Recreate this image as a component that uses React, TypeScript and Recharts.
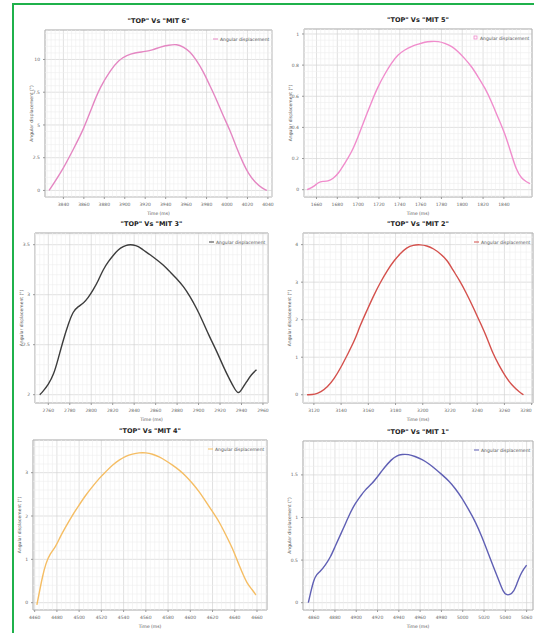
import React from "react";
import { CartesianGrid, Line, LineChart, ReferenceArea, ReferenceLine, XAxis, YAxis } from "recharts";

// MIT 6
const time1 = [3826, 3839, 3850, 3860, 3868, 3876, 3886, 3894, 3902, 3910, 3918, 3927, 3935, 3943, 3951, 3957, 3964, 3970, 3977, 3983, 3990, 3996, 4003, 4009, 4016, 4021, 4027, 4035, 4039];
const angle1 = [0, 1.53, 3.19, 4.72, 6.38, 7.91, 9.18, 9.95, 10.33, 10.51, 10.59, 10.71, 10.97, 11.1, 11.17, 10.97, 10.59, 9.95, 9.06, 8.04, 6.89, 5.74, 4.59, 3.32, 2.04, 1.28, 0.64, 0.13, 0];
const xTicks1 = [3840, 3860, 3880, 3900, 3920, 3940, 3960, 3980, 4000, 4020, 4040];
const yTicks1 = [0, 2.5, 5, 7.5, 10];

// MIT 5
const time2 = [1651, 1657, 1662, 1666, 1671, 1676, 1681, 1687, 1694, 1700, 1706, 1713, 1719, 1726, 1732, 1738, 1745, 1751, 1758, 1764, 1770, 1777, 1783, 1790, 1796, 1802, 1809, 1815, 1822, 1828, 1834, 1841, 1847, 1852, 1857, 1862, 1865];
const angle2 = [0, 0.017, 0.049, 0.054, 0.054, 0.071, 0.103, 0.168, 0.243, 0.34, 0.447, 0.566, 0.662, 0.748, 0.813, 0.867, 0.899, 0.92, 0.935, 0.948, 0.953, 0.953, 0.942, 0.92, 0.888, 0.845, 0.791, 0.727, 0.652, 0.566, 0.469, 0.361, 0.232, 0.125, 0.071, 0.049, 0.039];
const xTicks2 = [1660, 1680, 1700, 1720, 1740, 1760, 1780, 1800, 1820, 1840];
const yTicks2 = [0, 0.2, 0.4, 0.6, 0.8, 1];

// MIT 3
const time3 = [2752, 2755, 2760, 2765, 2769, 2774, 2779, 2783, 2788, 2793, 2797, 2802, 2807, 2811, 2816, 2821, 2825, 2830, 2834, 2839, 2844, 2848, 2855, 2861, 2867, 2873, 2879, 2886, 2892, 2898, 2904, 2910, 2917, 2923, 2929, 2934, 2937, 2940, 2945, 2949, 2954];
const angle3 = [2.0, 2.033, 2.1, 2.2, 2.35, 2.55, 2.717, 2.833, 2.883, 2.917, 2.967, 3.05, 3.15, 3.25, 3.333, 3.4, 3.45, 3.483, 3.5, 3.5, 3.483, 3.45, 3.4, 3.35, 3.3, 3.233, 3.167, 3.083, 2.983, 2.867, 2.733, 2.583, 2.433, 2.283, 2.15, 2.05, 2.007, 2.05, 2.133, 2.2, 2.25];
const xTicks3 = [2760, 2780, 2800, 2820, 2840, 2860, 2880, 2900, 2920, 2940, 2960];
const yTicks3 = [2, 2.5, 3, 3.5];

// MIT 2
const time4 = [3115, 3121, 3125, 3130, 3135, 3140, 3145, 3150, 3154, 3159, 3164, 3169, 3174, 3179, 3184, 3188, 3193, 3198, 3203, 3208, 3213, 3218, 3222, 3227, 3232, 3237, 3242, 3247, 3251, 3256, 3261, 3266, 3271, 3274];
const angle4 = [0, 0.009, 0.071, 0.204, 0.427, 0.738, 1.093, 1.449, 1.849, 2.249, 2.649, 3.004, 3.316, 3.582, 3.778, 3.92, 3.991, 4.0, 3.973, 3.893, 3.76, 3.582, 3.333, 3.049, 2.711, 2.338, 1.938, 1.538, 1.138, 0.782, 0.471, 0.231, 0.071, 0];
const xTicks4 = [3120, 3140, 3160, 3180, 3200, 3220, 3240, 3260, 3280];
const yTicks4 = [0, 1, 2, 3, 4];

// MIT 4
const time5 = [4462, 4464, 4467, 4470, 4474, 4479, 4483, 4488, 4494, 4500, 4506, 4512, 4518, 4524, 4530, 4536, 4542, 4548, 4554, 4560, 4566, 4572, 4578, 4584, 4590, 4596, 4602, 4608, 4614, 4620, 4626, 4632, 4638, 4642, 4647, 4651, 4656, 4659];
const angle5 = [-0.05, 0.215, 0.6, 0.908, 1.138, 1.292, 1.523, 1.754, 2.023, 2.254, 2.485, 2.677, 2.869, 3.023, 3.177, 3.292, 3.385, 3.431, 3.462, 3.462, 3.431, 3.369, 3.277, 3.177, 3.062, 2.923, 2.754, 2.562, 2.331, 2.1, 1.869, 1.562, 1.254, 0.985, 0.677, 0.446, 0.292, 0.177];
const xTicks5 = [4460, 4480, 4500, 4520, 4540, 4560, 4580, 4600, 4620, 4640, 4660];
const yTicks5 = [0, 1, 2, 3];

// MIT 1
const time6 = [4855, 4857, 4860, 4863, 4866, 4871, 4876, 4880, 4885, 4890, 4894, 4899, 4904, 4908, 4915, 4921, 4927, 4933, 4938, 4943, 4949, 4955, 4962, 4968, 4974, 4980, 4987, 4993, 4999, 5005, 5012, 5018, 5024, 5030, 5035, 5038, 5041, 5044, 5048, 5051, 5054, 5057, 5060];
const angle6 = [0, 0.109, 0.266, 0.336, 0.363, 0.441, 0.539, 0.656, 0.793, 0.93, 1.047, 1.164, 1.25, 1.32, 1.398, 1.496, 1.594, 1.68, 1.727, 1.742, 1.742, 1.719, 1.68, 1.633, 1.574, 1.508, 1.43, 1.34, 1.234, 1.105, 0.949, 0.773, 0.578, 0.383, 0.227, 0.129, 0.09, 0.09, 0.129, 0.227, 0.324, 0.391, 0.441];
const xTicks6 = [4860, 4880, 4900, 4920, 4940, 4960, 4980, 5000, 5020, 5040, 5060];
const yTicks6 = [0, 0.5, 1, 1.5];

type PanelSpec = {
  title: string;
  time: number[];
  angle: number[];
  xTicks: number[];
  yTicks: number[];
  xDomain: [number, number];
  yDomain: [number, number];
  color: string;
  box: { x0: number; y0: number; x1: number; y1: number };
  squareIcon?: boolean;
};

const panels: PanelSpec[] = [
  { title: '"TOP" Vs "MIT 6"', time: time1, angle: angle1, xTicks: xTicks1, yTicks: yTicks1, xDomain: [3822, 4044], yDomain: [-0.5, 12.25], color: "#e486c2", box: { x0: 45, y0: 30, x1: 272, y1: 197 } },
  { title: '"TOP" Vs "MIT 5"', time: time2, angle: angle2, xTicks: xTicks2, yTicks: yTicks2, xDomain: [1648, 1867], yDomain: [-0.047, 1.032], color: "#f08ccc", box: { x0: 304, y0: 29, x1: 532, y1: 197 }, squareIcon: true },
  { title: '"TOP" Vs "MIT 3"', time: time3, angle: angle3, xTicks: xTicks3, yTicks: yTicks3, xDomain: [2747.6, 2964.7], yDomain: [1.917, 3.617], color: "#3c3c3c", box: { x0: 35, y0: 233, x1: 268, y1: 403 } },
  { title: '"TOP" Vs "MIT 2"', time: time4, angle: angle4, xTicks: xTicks4, yTicks: yTicks4, xDomain: [3112, 3281], yDomain: [-0.22, 4.31], color: "#d4504c", box: { x0: 303, y0: 233, x1: 533, y1: 403 } },
  { title: '"TOP" Vs "MIT 4"', time: time5, angle: angle5, xTicks: xTicks5, yTicks: yTicks5, xDomain: [4458.5, 4669], yDomain: [-0.169, 3.754], color: "#f5bd63", box: { x0: 33, y0: 440, x1: 267, y1: 610 } },
  { title: '"TOP" Vs "MIT 1"', time: time6, angle: angle6, xTicks: xTicks6, yTicks: yTicks6, xDomain: [4850, 5066], yDomain: [-0.086, 1.898], color: "#5f5fb4", box: { x0: 303, y0: 441, x1: 533, y1: 610 } },
];

const FONT = "'DejaVu Sans', Arial, sans-serif";
const PAGE_W = 534;

// minor grid values between the major ticks
function minorValues(ticks: number[], domain: [number, number], parts: number): number[] {
  const step = (ticks[1] - ticks[0]) / parts;
  const out: number[] = [];
  const start = Math.ceil((domain[0] - ticks[0]) / step);
  for (let k = start; ticks[0] + k * step <= domain[1]; k++) {
    if (k % parts === 0) continue;
    out.push(ticks[0] + k * step);
  }
  return out;
}

function Panel({ p }: { p: PanelSpec }): JSX.Element {
  const padL = 30, padR = 4, padT = 4, padB = 24;
  const headroom = 14;
  const plotW = p.box.x1 - p.box.x0;
  const plotH = p.box.y1 - p.box.y0;
  const w = plotW + padL + padR;
  const h = plotH + padT + padB;
  const left = p.box.x0 - padL;
  const data = p.time.map((t, i) => ({ t, a: p.angle[i] }));
  const minorX = minorValues(p.xTicks, p.xDomain, 5);
  const minorY = minorValues(p.yTicks, p.yDomain, 5);
  const tickStyle = { fontSize: 4.5, fill: "#666", fontFamily: FONT };

  // keep a label that would run past the page edge inside it
  const XTick = (props: any) => {
    const { x, y, payload } = props;
    const nearEdge = left + x + 6 > PAGE_W;
    return (
      <text x={x} y={y} dy={4} textAnchor={nearEdge ? "end" : "middle"} {...tickStyle}>
        {payload.value}
      </text>
    );
  };

  return (
    <div style={{ position: "absolute", left, top: p.box.y0 - padT, width: w, height: h }}>
      <LineChart width={w} height={h} data={data} margin={{ top: padT, right: padR, bottom: 0, left: 0 }}>
        <XAxis
          dataKey="t" type="number" domain={p.xDomain} ticks={p.xTicks} allowDataOverflow interval={0}
          height={padB} tick={<XTick />} tickSize={2} tickMargin={3} tickLine={{ stroke: "#999" }} axisLine={false}
          label={{ value: "Time (ms)", position: "insideBottom", offset: 6, fontSize: 4.5, fill: "#555", fontFamily: FONT }}
        />
        <YAxis
          type="number" domain={p.yDomain} ticks={p.yTicks} allowDataOverflow interval={0}
          width={padL} tick={tickStyle} tickSize={2} tickMargin={3} tickLine={{ stroke: "#999" }} axisLine={false}
          label={{ value: "Angular displacement (°)", angle: -90, position: "insideLeft", offset: 16, fontSize: 4.5, fill: "#555", fontFamily: FONT, style: { textAnchor: "middle" } }}
        />
        {minorX.map((v) => <ReferenceLine key={"mx" + v} x={v} stroke="#eeeeee" strokeWidth={0.6} />)}
        {minorY.map((v) => <ReferenceLine key={"my" + v} y={v} stroke="#eeeeee" strokeWidth={0.6} />)}
        <CartesianGrid stroke="#d4d4d4" strokeWidth={0.7} />
        <ReferenceArea x1={p.xDomain[0]} x2={p.xDomain[1]} y1={p.yDomain[0]} y2={p.yDomain[1]} fill="none" stroke="#b5b5b5" strokeWidth={1} />
        <Line type="basis" dataKey="a" stroke={p.color} strokeWidth={1.4} dot={false} isAnimationActive={false} />
      </LineChart>
      <svg width={w} height={h + headroom} style={{ position: "absolute", left: 0, top: -headroom, pointerEvents: "none", overflow: "visible" }}>
        <text x={padL + plotW / 2} y={headroom + padT - 7} textAnchor="middle" fontSize={6.5} fontWeight="bold" fill="#222" fontFamily={FONT}>
          {p.title}
        </text>
        {p.squareIcon ? (
          <rect x={padL + plotW - 58} y={headroom + padT + 7} width={3} height={3} fill="none" stroke={p.color} strokeWidth={0.8} />
        ) : (
          <line x1={padL + plotW - 59} x2={padL + plotW - 54} y1={headroom + padT + 9} y2={headroom + padT + 9} stroke={p.color} strokeWidth={1} />
        )}
        <text x={padL + plotW - 52} y={headroom + padT + 10.5} fontSize={4.5} fill="#555" fontFamily={FONT}>
          Angular displacement
        </text>
      </svg>
    </div>
  );
}

export default function App(): JSX.Element {
  return (
    <div style={{ position: "absolute", left: 0, top: 0, width: PAGE_W, height: 633, overflow: "hidden", background: "#fff" }}>
      <div style={{ position: "absolute", left: 12, top: 3, width: 540, height: 660, border: "2px solid #1fb14b", boxSizing: "border-box" }} />
      {panels.map((p) => <Panel key={p.title} p={p} />)}
    </div>
  );
}
